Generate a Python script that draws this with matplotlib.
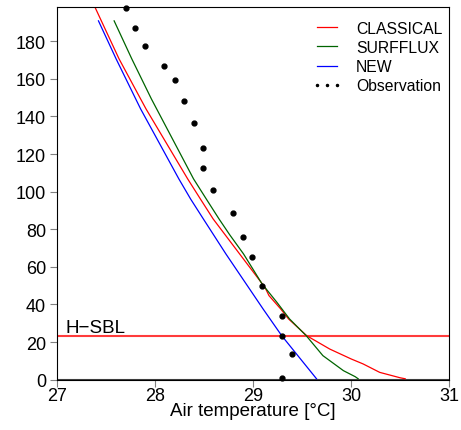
import matplotlib.pyplot as plt
from matplotlib.lines import Line2D

plt.rcParams['font.family'] = ['Liberation Sans', 'DejaVu Sans']

# CLASSICAL profile (height m, temperature degC)
classical_z = [198, 170.6, 149.3, 144, 106.8, 96.1, 85.5, 66.9, 49, 44.7, 37.6, 32.3,
               23.4, 16.3, 11, 8.4, 3.9, 1.0, 0.5]
classical_t = [27.385, 27.63, 27.85, 27.905, 28.33, 28.46, 28.59, 28.86, 29.12, 29.16, 29.28, 29.36,
               29.545, 29.78, 30.0, 30.12, 30.29, 30.50, 30.55]

# SURFFLUX profile
surfflux_z = [190.8, 170.6, 149.3, 106.8, 96.1, 85.5, 77, 66.9, 50.9, 41.2, 32.3,
              23.4, 12.8, 4.8, 1.6, 0.5]
surfflux_t = [27.58, 27.76, 27.96, 28.39, 28.52, 28.65, 28.76, 28.9, 29.09, 29.24, 29.37,
              29.54, 29.71, 29.92, 30.04, 30.07]

# NEW profile
new_z = [190.8, 170.6, 149.3, 144, 106.8, 96.1, 85.5, 66.9, 37.6, 23.4, 0.5]
new_t = [27.42, 27.60, 27.80, 27.85, 28.24, 28.36, 28.49, 28.72, 29.10, 29.29, 29.645]

# observations
obs_z = [197.7, 187.2, 177.3, 167.0, 159.3, 148.1, 136.4, 123.1, 112.4, 101.1,
         88.6, 76.0, 65.5, 49.7, 34.0, 23.4, 13.5, 0.7]
obs_t = [27.70, 27.79, 27.90, 28.09, 28.20, 28.29, 28.40, 28.49, 28.49, 28.59,
         28.79, 28.89, 28.99, 29.09, 29.29, 29.29, 29.40, 29.29]

h_sbl = 23.0

fig = plt.figure(figsize=(4.61, 4.31), dpi=100)
ax = fig.add_axes([0.1243, 0.1167, 0.8503, 0.864])

ax.axhline(h_sbl, color='#ff3b3b', lw=1.5)
ax.axhline(0, color='#404040', lw=1.5)
ax.plot(classical_t, classical_z, color='red', lw=0.9, label='CLASSICAL')
ax.plot(surfflux_t, surfflux_z, color='#006400', lw=0.9, label='SURFFLUX')
ax.plot(new_t, new_z, color='blue', lw=0.9, label='NEW')
ax.plot(obs_t, obs_z, 'o', color='black', ms=3.5, clip_on=False)
ax.text(27.086, h_sbl + 2.3, 'H\u2212SBL', fontsize=13.5, va='baseline')

ax.set_xlim(27, 31)
ax.set_ylim(0, 198)
ax.set_xticks([27, 28, 29, 30, 31])
ax.set_yticks(range(0, 181, 20))
ax.tick_params(direction='out', length=5, color='#808080', labelsize=13)
ax.tick_params(axis='x', pad=0)
ax.tick_params(axis='y', pad=3)
ax.set_xlabel('Air temperature [\u00b0C]', fontsize=13.5, labelpad=-1)

handles, labels = ax.get_legend_handles_labels()
handles.append(Line2D([], [], ls='none', marker='o', ms=1.5, color='black'))
labels.append('Observation')
ax.legend(handles, labels, loc='upper right', bbox_to_anchor=(1.017, 1.0),
          frameon=False, fontsize=11.3, numpoints=3, handlelength=1.9,
          handletextpad=0.9, labelspacing=0.27, borderaxespad=0.55, borderpad=0.3)

fig.savefig('out.png', dpi=100)
